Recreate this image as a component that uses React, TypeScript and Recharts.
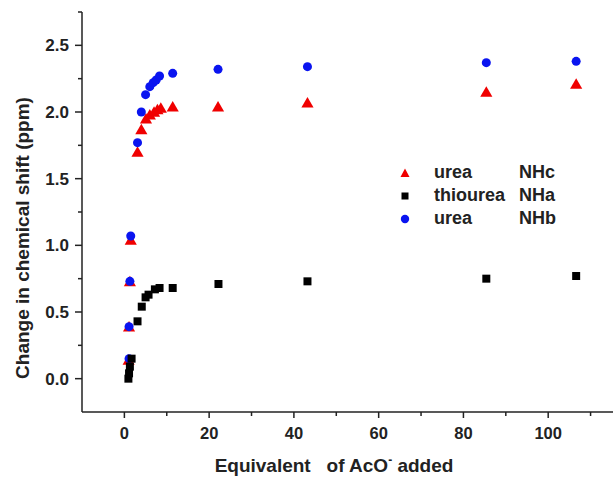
import { ScatterChart, Scatter, XAxis, YAxis, Label } from "recharts";

// urea NHc (red triangles)
const nhcX = [1.0, 1.1, 1.3, 1.5, 3.1, 4.0, 5.1, 6.0, 7.0, 7.8, 8.6, 11.4, 22.1, 43.2, 85.4, 106.6];
const nhcY = [0.13, 0.38, 0.72, 1.03, 1.69, 1.86, 1.94, 1.97, 1.99, 2.01, 2.02, 2.03, 2.03, 2.06, 2.14, 2.2];

// thiourea NHa (black squares)
const nhaX = [0.95, 1.1, 1.3, 1.7, 3.1, 4.1, 5.0, 5.7, 7.2, 8.3, 11.4, 22.2, 43.2, 85.4, 106.6];
const nhaY = [0.0, 0.04, 0.09, 0.15, 0.43, 0.54, 0.61, 0.63, 0.67, 0.68, 0.68, 0.71, 0.73, 0.75, 0.77];

// urea NHb (blue circles)
const nhbX = [1.1, 1.1, 1.3, 1.5, 3.1, 4.0, 5.0, 6.0, 6.8, 7.5, 8.3, 11.4, 22.1, 43.2, 85.4, 106.6];
const nhbY = [0.15, 0.39, 0.73, 1.07, 1.77, 2.0, 2.13, 2.19, 2.22, 2.24, 2.27, 2.29, 2.32, 2.34, 2.37, 2.38];

const xTicks = [0, 10, 20, 30, 40, 50, 60, 70, 80, 90, 100, 110];
const xMajor = [0, 20, 40, 60, 80, 100];
const yTicks = [0, 0.25, 0.5, 0.75, 1.0, 1.25, 1.5, 1.75, 2.0, 2.25, 2.5, 2.75];

const FONT = '"Liberation Sans", Arial, sans-serif';
const INK = "#222";
const RED = "#f00000";
const BLUE = "#0a14f0";

const toRows = (xs: number[], ys: number[]) => xs.map((x, i) => ({ x, y: ys[i] }));

function XTick({ x, y, payload }: any) {
  const major = xMajor.includes(payload.value);
  return (
    <g>
      <line x1={x} x2={x} y1={y} y2={y + (major ? 6 : 4)} stroke={INK} strokeWidth={1.5} />
      {major && (
        <text x={x} y={y + 27} textAnchor="middle" fontFamily={FONT} fontWeight="bold" fontSize={16.5} fill={INK}>
          {payload.value}
        </text>
      )}
    </g>
  );
}

function YTick({ x, y, payload }: any) {
  const v = payload.value;
  const major = Math.abs(v * 2 - Math.round(v * 2)) < 1e-6;
  return (
    <g>
      <line x1={x} x2={x - (major ? 7 : 4)} y1={y} y2={y} stroke={INK} strokeWidth={1.5} />
      {major && (
        <text x={x - 13} y={y + 6} textAnchor="end" fontFamily={FONT} fontWeight="bold" fontSize={17} fill={INK}>
          {v.toFixed(1)}
        </text>
      )}
    </g>
  );
}

const legendRows = [
  { name: "urea", tag: "NHc", color: RED, shape: "triangle" },
  { name: "thiourea", tag: "NHa", color: "#000", shape: "square" },
  { name: "urea", tag: "NHb", color: BLUE, shape: "circle" },
];

function LegendMark({ shape, color }: { shape: string; color: string }) {
  return (
    <svg width={12} height={12} style={{ position: "absolute", left: -8, top: 5.5 }}>
      {shape === "triangle" && <polygon points="6,1.5 10.5,10 1.5,10" fill={color} />}
      {shape === "square" && <rect x={2.5} y={2.5} width={7} height={7} fill={color} />}
      {shape === "circle" && <circle cx={6} cy={6} r={4.2} fill={color} />}
    </svg>
  );
}

export default function App() {
  return (
    <div style={{ position: "absolute", left: 0, top: 0, width: 613, height: 488, overflow: "hidden", background: "#fff" }}>
      <ScatterChart width={616} height={488} margin={{ top: 12, right: 0, bottom: 0, left: 0 }}>
        <XAxis
          type="number"
          dataKey="x"
          domain={[-10, 116]}
          ticks={xTicks}
          interval={0}
          height={76}
          tickSize={0}
          tickMargin={0}
          tickLine={false}
          tick={<XTick />}
          axisLine={{ stroke: INK, strokeWidth: 1.5 }}
          allowDataOverflow
        >
          <Label
            content={() => (
              <text x={334} y={472} textAnchor="middle" fontFamily={FONT} fontWeight="bold" fontSize={19} fill={INK}>
                Equivalent{"\u00a0\u00a0"} of AcO
                <tspan dy={-8} fontSize={12}>-</tspan>
                <tspan dy={8}> added</tspan>
              </text>
            )}
          />
        </XAxis>
        <YAxis
          type="number"
          dataKey="y"
          domain={[-0.25, 2.75]}
          ticks={yTicks}
          interval={0}
          width={82}
          tickSize={0}
          tickMargin={0}
          tickLine={false}
          tick={<YTick />}
          axisLine={{ stroke: INK, strokeWidth: 1.5 }}
          allowDataOverflow
        >
          <Label
            content={() => (
              <text
                x={22}
                y={238}
                transform="rotate(-90 22 238)"
                textAnchor="middle"
                dominantBaseline="central"
                fontFamily={FONT}
                fontWeight="bold"
                fontSize={19}
                fill={INK}
              >
                Change in chemical shift (ppm)
              </text>
            )}
          />
        </YAxis>
        <Scatter name="urea NHc" data={toRows(nhcX, nhcY)} fill={RED} shape="triangle" legendType="triangle" isAnimationActive={false} />
        <Scatter name="urea NHb" data={toRows(nhbX, nhbY)} fill={BLUE} shape="circle" legendType="circle" isAnimationActive={false} />
        <Scatter name="thiourea NHa" data={toRows(nhaX, nhaY)} fill="#000" shape="square" legendType="square" isAnimationActive={false} />
      </ScatterChart>
      <div
        style={{
          position: "absolute",
          left: 407,
          top: 161,
          fontFamily: FONT,
          fontWeight: "bold",
          fontSize: 18,
          color: INK,
          lineHeight: "23px",
        }}
      >
        {legendRows.map((r) => (
          <div key={r.tag} style={{ position: "relative", height: 23, whiteSpace: "nowrap" }}>
            <LegendMark shape={r.shape} color={r.color} />
            <span style={{ position: "absolute", left: 27 }}>{r.name}</span>
            <span style={{ position: "absolute", left: 112 }}>{r.tag}</span>
          </div>
        ))}
      </div>
    </div>
  );
}
